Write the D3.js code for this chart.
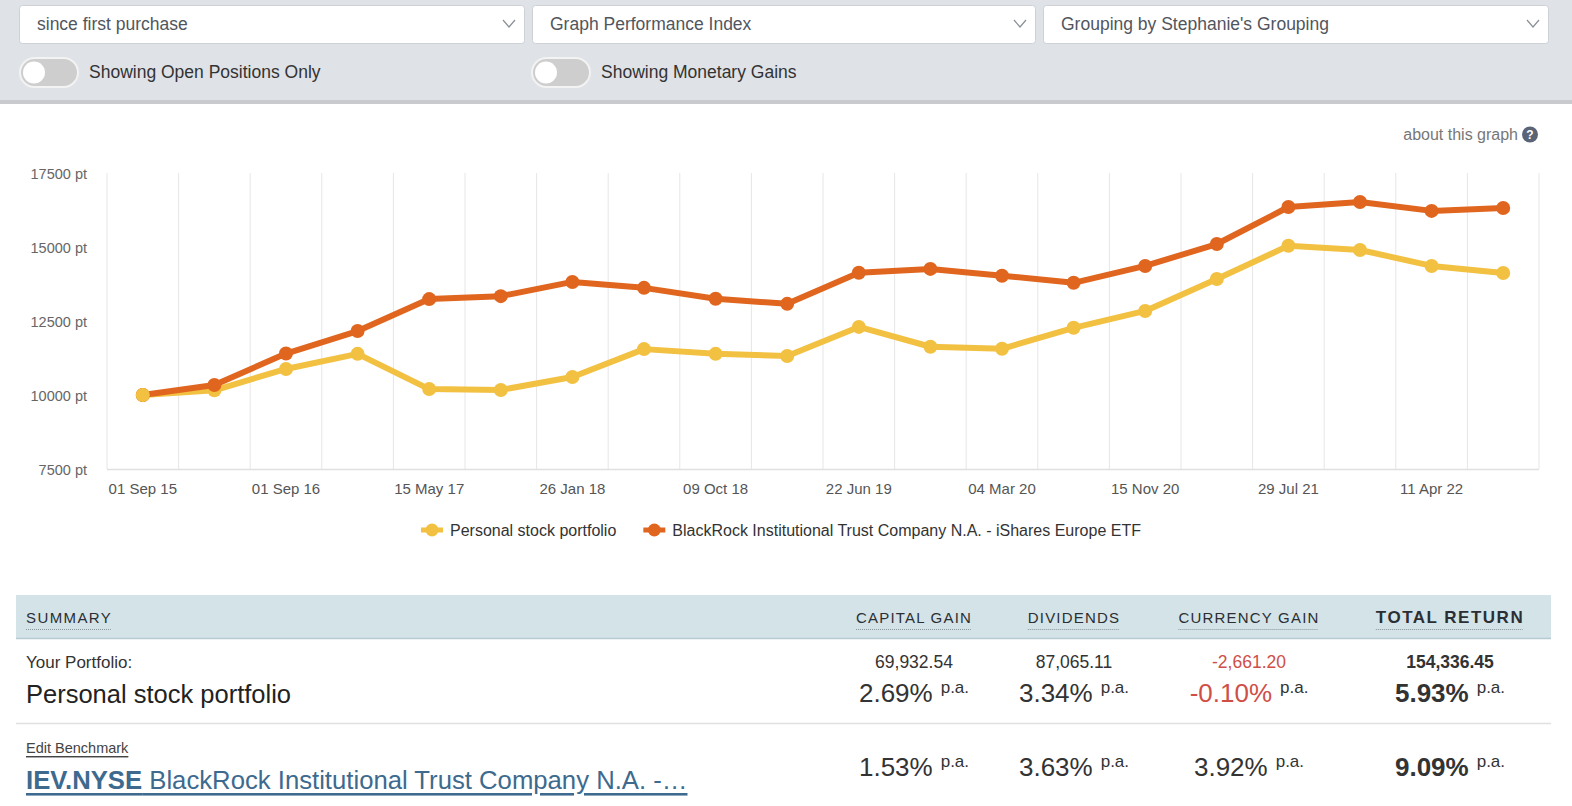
<!DOCTYPE html>
<html><head><meta charset="utf-8">
<script src="https://cdn.jsdelivr.net/npm/d3@7"></script>
<style>
body{margin:0;background:#fff;overflow:hidden;font-family:"Liberation Sans",Arial,sans-serif}
svg{display:block}
</style></head><body>
<svg id="c" width="1572" height="806"></svg>
<script>
// ---------- data ----------
const categories = ["01 Sep 15","01 Mar 16","01 Sep 16","05 Jan 17","15 May 17","19 Sep 17","26 Jan 18","01 Jun 18","09 Oct 18","14 Feb 19","22 Jun 19","28 Oct 19","04 Mar 20","09 Jul 20","15 Nov 20","23 Mar 21","29 Jul 21","04 Dec 21","11 Apr 22","17 Aug 22"];
const tickLabels = ["01 Sep 15","01 Sep 16","15 May 17","26 Jan 18","09 Oct 18","22 Jun 19","04 Mar 20","15 Nov 20","29 Jul 21","11 Apr 22"];
const personal  = [10000,10160,10880,11390,10200,10170,10610,11550,11390,11320,12300,11630,11560,12270,12840,13920,15040,14900,14360,14120];
const blackrock = [10000,10340,11400,12160,13240,13340,13820,13620,13250,13080,14130,14260,14030,13790,14360,15100,16350,16520,16220,16320];
const yTicks = [7500,10000,12500,15000,17500];
const seriesNames = ["Personal stock portfolio","BlackRock Institutional Trust Company N.A. - iShares Europe ETF"];
const seriesColors = ["#f2c142","#e0661f"];

const dropdowns = ["since first purchase","Graph Performance Index","Grouping by Stephanie's Grouping"];
const toggles = ["Showing Open Positions Only","Showing Monetary Gains"];

const columns = ["CAPITAL GAIN","DIVIDENDS","CURRENCY GAIN","TOTAL RETURN"];
const portfolioAmounts = ["69,932.54","87,065.11","-2,661.20","154,336.45"];
const portfolioRates = ["2.69%","3.34%","-0.10%","5.93%"];
const benchmarkRates = ["1.53%","3.63%","3.92%","9.09%"];

// ---------- drawing ----------
const svg = d3.select("#c");
const FONT = '"Liberation Sans", Arial, sans-serif';
svg.attr("font-family", FONT);

// top control bar
svg.append("rect").attr("x",0).attr("y",0).attr("width",1572).attr("height",100).attr("fill","#dfe2e6");
svg.append("rect").attr("x",0).attr("y",100).attr("width",1572).attr("height",4).attr("fill","#c9cacd");

const ddBoxes = [[19,524],[532,1035],[1043,1548]];
dropdowns.forEach((t,i)=>{
  const [x0,x1] = ddBoxes[i];
  svg.append("rect").attr("x",x0+0.5).attr("y",5.5).attr("width",x1-x0).attr("height",38).attr("rx",3)
    .attr("fill","#fff").attr("stroke","#cdd1d6");
  svg.append("text").attr("x",x0+18).attr("y",23.5).attr("dominant-baseline","central")
    .attr("font-size",17.5).attr("fill","#51565e").text(t);
  const cx = x1-15;
  svg.append("polyline").attr("points",`${cx-6},20 ${cx},27 ${cx+6},20`).attr("fill","none")
    .attr("stroke","#8a8f96").attr("stroke-width",1.2);
});

const tgX = [19,531];
toggles.forEach((t,i)=>{
  const x = tgX[i];
  svg.append("rect").attr("x",x+1).attr("y",58).attr("width",58).attr("height",29).attr("rx",14.5)
    .attr("fill","#cecece").attr("stroke","#f3f3f3").attr("stroke-width",2);
  svg.append("circle").attr("cx",x+15).attr("cy",72.5).attr("r",11).attr("fill","#fff");
  svg.append("text").attr("x",x+70).attr("y",72).attr("dominant-baseline","central")
    .attr("font-size",17.5).attr("fill","#333").text(t);
});

// about this graph
svg.append("text").attr("x",1518).attr("y",134).attr("dominant-baseline","central").attr("text-anchor","end")
  .attr("font-size",16).attr("fill","#777").text("about this graph");
svg.append("circle").attr("cx",1530).attr("cy",134.5).attr("r",8).attr("fill","#5b6477");
svg.append("text").attr("x",1530).attr("y",135).attr("dominant-baseline","central").attr("text-anchor","middle")
  .attr("font-size",12).attr("font-weight","bold").attr("fill","#fff").text("?");

// chart
const x = d3.scaleBand().domain(categories).range([107,1539]).padding(0);
const y = d3.scaleLinear().domain([7500,17500]).range([469,173]);
const cxp = d => x(d)+x.bandwidth()/2;

const grid = svg.append("g");
grid.selectAll("line.v").data(categories.concat(["__end"])).join("line")
  .attr("x1",d=> d==="__end" ? 1539 : x(d)).attr("x2",d=> d==="__end" ? 1539 : x(d))
  .attr("y1",173).attr("y2",469).attr("stroke","#e6e6e6").attr("stroke-width",1);
grid.append("line").attr("x1",107).attr("x2",1539).attr("y1",469.5).attr("y2",469.5)
  .attr("stroke","#e0e0e0").attr("stroke-width",1.5);

// y axis labels
const yAxis = svg.append("g").attr("transform","translate(87,1)")
  .call(d3.axisLeft(y).tickValues(yTicks).tickSize(0).tickPadding(0).tickFormat(d=>d+" pt"));
yAxis.select(".domain").remove();
yAxis.selectAll("text").attr("font-size",14.5).attr("fill","#666").attr("font-family",FONT);

// x axis labels
const xAxis = svg.append("g").attr("transform","translate(0,483)")
  .call(d3.axisBottom(x).tickValues(tickLabels).tickSize(0).tickPadding(0));
xAxis.select(".domain").remove();
xAxis.selectAll("text").attr("font-size",15).attr("fill","#555").attr("font-family",FONT).attr("dy","0.71em").attr("y",0);

const line = d3.line().x((d,i)=>cxp(categories[i])).y(d=>y(d));
[personal, blackrock].forEach((s,k)=>{
  const g = svg.append("g");
  g.append("path").datum(s).attr("d",line).attr("fill","none").attr("stroke",seriesColors[k])
    .attr("stroke-width",6).attr("stroke-linejoin","round").attr("stroke-linecap","round");
  g.selectAll("circle").data(s).join("circle").attr("cx",(d,i)=>cxp(categories[i])).attr("cy",d=>y(d))
    .attr("r",7).attr("fill",seriesColors[k]);
});
svg.append("circle").attr("cx",cxp(categories[0])).attr("cy",y(personal[0])).attr("r",7).attr("fill",seriesColors[0]);

// legend
let lx = 421;
seriesNames.forEach((n,k)=>{
  svg.append("line").attr("x1",lx).attr("x2",lx+22).attr("y1",530).attr("y2",530)
    .attr("stroke",seriesColors[k]).attr("stroke-width",5);
  svg.append("circle").attr("cx",lx+11).attr("cy",530).attr("r",6.5).attr("fill",seriesColors[k]);
  const t = svg.append("text").attr("x",lx+29).attr("y",530).attr("dominant-baseline","central")
    .attr("font-size",16).attr("fill","#333").text(n);
  lx = lx + 29 + t.node().getComputedTextLength() + 27;
});

// summary table
svg.append("rect").attr("x",16).attr("y",595).attr("width",1535).attr("height",43).attr("fill","#d3e3e8");
svg.append("line").attr("x1",16).attr("x2",1551).attr("y1",638.5).attr("y2",638.5).attr("stroke","#b6cbd1").attr("stroke-width",1.5);
svg.append("line").attr("x1",16).attr("x2",1551).attr("y1",723.5).attr("y2",723.5).attr("stroke","#e0e0e0").attr("stroke-width",1.5);

function header(txt, xc, anchor, size, bold, ls){
  const t = svg.append("text").attr("x",xc).attr("y",617).attr("dominant-baseline","central")
    .attr("font-size",size).attr("fill","#2b2f33")
    .attr("letter-spacing",ls).attr("font-weight",bold?"bold":"normal").text(txt);
  const w = t.node().getComputedTextLength();
  const x0 = anchor==="middle" ? xc-w/2 : xc;
  t.attr("x",x0);
  svg.append("line").attr("x1",x0).attr("x2",x0+w-ls).attr("y1",629.5).attr("y2",629.5)
    .attr("stroke","#8a9599").attr("stroke-width",1).attr("stroke-dasharray","1,1");
}
header("SUMMARY",26,"start",15,false,1.4);
const colX = [914,1074,1249,1450];
columns.forEach((c,i)=>header(c,colX[i],"middle",i===3?17:15,i===3,i===3?1.5:1.2));

svg.append("text").attr("x",26).attr("y",662).attr("dominant-baseline","central").attr("font-size",17).attr("fill","#333").text("Your Portfolio:");
svg.append("text").attr("x",26).attr("y",694).attr("dominant-baseline","central").attr("font-size",25.5).attr("fill","#222").text("Personal stock portfolio");

portfolioAmounts.forEach((a,i)=>{
  svg.append("text").attr("x",colX[i]).attr("y",662).attr("dominant-baseline","central").attr("text-anchor","middle")
    .attr("font-size",17.5).attr("font-weight",i===3?"bold":"normal")
    .attr("fill", a.startsWith("-") ? "#cf4f47" : "#333").text(a);
});

function rate(val, xc, yc, bold){
  const g = svg.append("g");
  const col = val.startsWith("-") ? "#cf4f47" : "#333";
  const t1 = g.append("text").attr("x",0).attr("y",yc).attr("dominant-baseline","central")
    .attr("font-size",26).attr("font-weight",bold?"bold":"normal").attr("fill",col).text(val);
  const w1 = t1.node().getComputedTextLength();
  const t2 = g.append("text").attr("x",w1+8).attr("y",yc-6).attr("dominant-baseline","central")
    .attr("font-size",17).attr("fill","#333").text("p.a.");
  const w = w1+8+t2.node().getComputedTextLength();
  g.attr("transform",`translate(${xc-w/2},0)`);
}
portfolioRates.forEach((r,i)=>rate(r,colX[i],693,i===3));
benchmarkRates.forEach((r,i)=>rate(r,colX[i],767,i===3));

svg.append("text").attr("x",26).attr("y",748).attr("dominant-baseline","central").attr("font-size",14.5)
  .attr("fill","#444").attr("text-decoration","underline").text("Edit Benchmark");
const lk = svg.append("text").attr("x",26).attr("y",780).attr("dominant-baseline","central").attr("font-size",25.7)
  .attr("fill","#3d6a8e").attr("text-decoration","underline");
lk.append("tspan").attr("font-weight","bold").text("IEV.NYSE");
lk.append("tspan").text(" BlackRock Institutional Trust Company N.A. -…");
</script>
</body></html>
